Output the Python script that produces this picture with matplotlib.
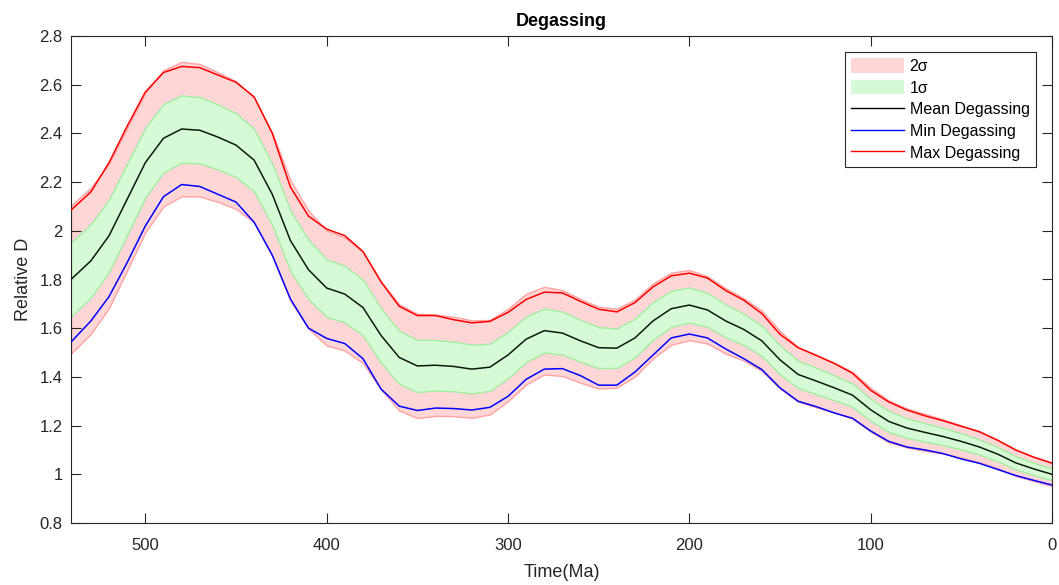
import matplotlib
matplotlib.use("Agg")
import matplotlib.pyplot as plt
import numpy as np
from matplotlib.patches import Patch
from matplotlib.lines import Line2D

# ---- data ----
time_ma = [541, 530, 520, 510, 500, 490, 480, 470, 460, 450, 440, 430, 420, 410,
           400, 390, 380, 370, 360, 350, 340, 330, 320, 310, 300, 290, 280, 270,
           260, 250, 240, 230, 220, 210, 200, 190, 180, 170, 160, 150, 140, 130,
           120, 110, 100, 90, 80, 70, 60, 50, 40, 30, 20, 10, 0]

mean_deg = [1.80, 1.877, 1.98, 2.13, 2.28, 2.38, 2.418, 2.413, 2.385, 2.352, 2.29,
            2.15, 1.96, 1.84, 1.765, 1.74, 1.685, 1.57, 1.48, 1.445, 1.448, 1.443,
            1.432, 1.44, 1.49, 1.555, 1.59, 1.58, 1.548, 1.52, 1.518, 1.56, 1.63,
            1.68, 1.695, 1.675, 1.63, 1.595, 1.548, 1.47, 1.41, 1.383, 1.355, 1.325,
            1.265, 1.217, 1.19, 1.172, 1.155, 1.135, 1.112, 1.083, 1.047, 1.022, 1.0]

sigma_deg = [0.152, 0.150, 0.148, 0.146, 0.143, 0.140, 0.138, 0.136, 0.133, 0.131,
             0.128, 0.126, 0.124, 0.121, 0.118, 0.116, 0.114, 0.111, 0.109, 0.107,
             0.104, 0.102, 0.100, 0.097, 0.095, 0.093, 0.090, 0.088, 0.086, 0.084,
             0.081, 0.079, 0.077, 0.074, 0.072, 0.069, 0.067, 0.064, 0.062, 0.059,
             0.056, 0.054, 0.051, 0.048, 0.045, 0.043, 0.040, 0.038, 0.035, 0.033,
             0.031, 0.029, 0.027, 0.025, 0.024]

max_deg = [2.085, 2.16, 2.28, 2.43, 2.57, 2.65, 2.675, 2.67, 2.64, 2.61, 2.55, 2.40,
           2.18, 2.06, 2.007, 1.98, 1.915, 1.79, 1.69, 1.652, 1.652, 1.635, 1.622,
           1.628, 1.665, 1.718, 1.748, 1.745, 1.71, 1.678, 1.667, 1.705, 1.77, 1.815,
           1.826, 1.806, 1.755, 1.715, 1.66, 1.575, 1.52, 1.488, 1.455, 1.415, 1.345,
           1.297, 1.264, 1.24, 1.22, 1.197, 1.175, 1.14, 1.10, 1.07, 1.046]

min_deg = [1.543, 1.63, 1.73, 1.87, 2.02, 2.14, 2.19, 2.182, 2.15, 2.118, 2.035, 1.90,
           1.72, 1.60, 1.558, 1.537, 1.475, 1.35, 1.28, 1.262, 1.272, 1.27, 1.264,
           1.275, 1.32, 1.39, 1.432, 1.434, 1.405, 1.366, 1.366, 1.42, 1.49, 1.56,
           1.576, 1.56, 1.515, 1.475, 1.43, 1.355, 1.30, 1.278, 1.252, 1.23, 1.178,
           1.135, 1.112, 1.10, 1.085, 1.063, 1.045, 1.02, 0.995, 0.975, 0.956]

y_ticks = [0.8, 1.0, 1.2, 1.4, 1.6, 1.8, 2.0, 2.2, 2.4, 2.6, 2.8]
y_ticklabels = ["0.8", "1", "1.2", "1.4", "1.6", "1.8", "2", "2.2", "2.4", "2.6", "2.8"]
x_ticks = [500, 400, 300, 200, 100, 0]

legend_labels = ["2σ", "1σ", "Mean Degassing", "Min Degassing", "Max Degassing"]

# ---- plotting ----
plt.rcParams['font.family'] = ['Liberation Sans', 'DejaVu Sans']

t = np.array(time_ma, dtype=float)
m = np.array(mean_deg)
s = np.array(sigma_deg)

fig = plt.figure(figsize=(10.59, 5.85), dpi=100)
ax = fig.add_axes([71 / 1059, 1 - 523 / 585, (1052 - 71) / 1059, (523 - 36) / 585])

pink_face = '#ffd6d6'
pink_edge = '#ffa3a3'
green_face = '#d6fad6'
green_edge = '#a0f0a0'

ax.fill_between(t, m - 2 * s, m + 2 * s, facecolor=pink_face, edgecolor=pink_edge,
                linewidth=1.0, zorder=1)
ax.fill_between(t, m - s, m + s, facecolor=green_face, edgecolor=green_edge,
                linewidth=1.0, zorder=2)
line_kw = dict(linewidth=1.1, zorder=3, solid_joinstyle='round')
ax.plot(t, m, color='#0a1a0a', **line_kw)
ax.plot(t, min_deg, color='#0000ff', **line_kw)
ax.plot(t, max_deg, color='#ff0000', **line_kw)

ax.set_xlim(541, 0)
ax.set_ylim(0.8, 2.8)
ax.set_xticks(x_ticks)
ax.set_yticks(y_ticks)
ax.set_yticklabels(y_ticklabels)

spine_col = '#262626'
for sp in ax.spines.values():
    sp.set_color(spine_col)
    sp.set_linewidth(0.8)
ax.tick_params(direction='in', length=7, width=0.8, color=spine_col,
               top=True, right=True, labelsize=12, labelcolor='#262626')
ax.tick_params(axis='x', pad=11)
ax.tick_params(axis='y', pad=6)

ax.set_title('Degassing', fontsize=13, fontweight='bold', pad=7)
ax.set_xlabel('Time(Ma)', fontsize=13, color='#262626', labelpad=8)
ax.set_ylabel('Relative D', fontsize=13, color='#262626', labelpad=5)

handles = [Patch(facecolor=pink_face, edgecolor='none'),
           Patch(facecolor=green_face, edgecolor='none'),
           Line2D([], [], color='black', linewidth=1.0),
           Line2D([], [], color='#0000ff', linewidth=1.0),
           Line2D([], [], color='#ff0000', linewidth=1.0)]
leg = ax.legend(handles, legend_labels, loc='upper right', fontsize=11.5,
                frameon=True, fancybox=False, edgecolor=spine_col, framealpha=1,
                handlelength=3.3, handleheight=1.0, handletextpad=0.37,
                labelspacing=0.38, borderpad=0.4, borderaxespad=1.0)
leg.get_frame().set_linewidth(0.8)

fig.savefig('out.png', dpi=100)
